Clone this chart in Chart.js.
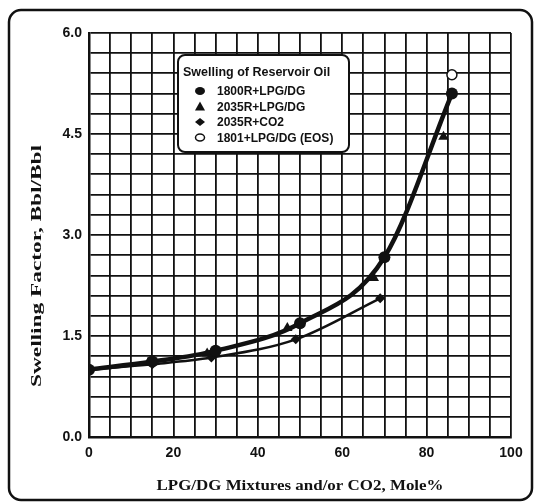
<!DOCTYPE html>
<html>
<head>
<meta charset="utf-8">
<title>Swelling of Reservoir Oil</title>
<script src="https://cdn.jsdelivr.net/npm/chart.js"></script>
<style>
  html, body { margin: 0; padding: 0; background: #fff; }
  #wrap { width: 535px; height: 502px; }
</style>
</head>
<body>
<div id="wrap"><canvas id="swellChart" width="535" height="502"></canvas></div>
<script>
// data
const x1800 = [0, 15, 30, 50, 70, 86];
const y1800 = [1.0, 1.12, 1.28, 1.69, 2.67, 5.1];

const x2035 = [14, 28, 47, 67.5, 84];
const y2035 = [1.10, 1.24, 1.62, 2.36, 4.46];

const xCO2 = [0, 15, 29, 49, 69];
const yCO2 = [1.0, 1.08, 1.18, 1.45, 2.06];

const xEOS = [86];
const yEOS = [5.38];

const seriesNames = ['1800R+LPG/DG', '2035R+LPG/DG', '2035R+CO2', '1801+LPG/DG (EOS)'];

const xTicksShown = [0, 20, 40, 60, 80, 100];
const yTicksShown = ['0.0', '1.5', '3.0', '4.5', '6.0'];

const xTitle = 'LPG/DG Mixtures and/or CO2, Mole%';
const yTitle = 'Swelling Factor, Bbl/Bbl';

const pts = (xs, ys) => xs.map((x, i) => ({ x: x, y: ys[i] }));
const ink = '#111';
const serifBold = 'bold 15px "Liberation Serif", "Times New Roman", serif';

const framePlugin = {
  id: 'frame',
  beforeDraw(chart) {
    const c = chart.ctx;
    c.save();
    c.fillStyle = '#fff';
    c.fillRect(0, 0, chart.width, chart.height);
    c.strokeStyle = ink;
    c.lineWidth = 2.5;
    c.beginPath();
    c.roundRect(9, 10, chart.width - 12, chart.height - 12, 12);
    c.stroke();
    c.restore();
  }
};

// axis titles in the scan are wide, stretched type
function stretchedText(c, text, cx, cy, targetW, rot) {
  c.save();
  c.translate(cx, cy);
  if (rot) c.rotate(-Math.PI / 2);
  const w = c.measureText(text).width;
  c.scale(targetW / w, 1);
  c.fillText(text, 0, 0);
  c.restore();
}

const axisTitles = {
  id: 'axisTitles',
  afterDraw(chart) {
    const c = chart.ctx;
    const a = chart.chartArea;
    c.save();
    c.fillStyle = ink;
    c.font = serifBold;
    c.textAlign = 'center';
    c.textBaseline = 'middle';
    stretchedText(c, xTitle, (a.left + a.right) / 2, a.bottom + 49, 287, false);
    stretchedText(c, yTitle, 37, a.top + 233, 242, true);
    c.restore();
  }
};

const legendBox = {
  id: 'legendBox',
  afterDatasetsDraw(chart) {
    const c = chart.ctx;
    const a = chart.chartArea;
    const left = a.left + 89, top = a.top + 22, w = 171, h = 97;
    c.save();
    c.fillStyle = '#fff';
    c.strokeStyle = ink;
    c.lineWidth = 2;
    c.beginPath();
    c.roundRect(left, top, w, h, 7);
    c.fill();
    c.stroke();
    c.fillStyle = ink;
    c.textBaseline = 'middle';
    c.font = 'bold 12.5px "Liberation Sans", Arial, sans-serif';
    c.fillText('Swelling of Reservoir Oil', left + 5, top + 18);
    c.font = 'bold 12px "Liberation Sans", Arial, sans-serif';
    seriesNames.forEach((name, i) => {
      const yy = top + 36 + i * 15.5;
      const mx = left + 22;
      c.beginPath();
      if (i === 0) {
        c.ellipse(mx, yy, 5, 4, 0, 0, Math.PI * 2);
        c.fill();
      } else if (i === 1) {
        c.moveTo(mx, yy - 5); c.lineTo(mx + 5, yy + 4); c.lineTo(mx - 5, yy + 4); c.closePath();
        c.fill();
      } else if (i === 2) {
        c.moveTo(mx, yy - 4); c.lineTo(mx + 5, yy); c.lineTo(mx, yy + 4); c.lineTo(mx - 5, yy); c.closePath();
        c.fill();
      } else {
        c.ellipse(mx, yy, 4.5, 3.5, 0, 0, Math.PI * 2);
        c.lineWidth = 1.5;
        c.stroke();
      }
      c.fillText(name, left + 39, yy + 1);
    });
    c.restore();
  }
};

const ctx = document.getElementById('swellChart').getContext('2d');
const chart = new Chart(ctx, {
  type: 'scatter',
  data: {
    datasets: [
      {
        label: seriesNames[0],
        data: pts(x1800, y1800),
        showLine: true,
        cubicInterpolationMode: 'monotone',
        borderColor: ink,
        backgroundColor: ink,
        borderWidth: 4.5,
        pointStyle: 'circle',
        pointRadius: 6,
        pointBorderWidth: 0
      },
      {
        label: seriesNames[1],
        data: pts(x2035, y2035),
        showLine: false,
        borderColor: ink,
        backgroundColor: ink,
        pointStyle: 'triangle',
        pointRadius: 6,
        pointBorderWidth: 0
      },
      {
        label: seriesNames[2],
        data: pts(xCO2, yCO2),
        showLine: true,
        cubicInterpolationMode: 'monotone',
        borderColor: ink,
        backgroundColor: ink,
        borderWidth: 2.5,
        pointStyle: 'rectRot',
        pointRadius: (c) => c.dataIndex === 0 ? 0 : 5,
        pointBorderWidth: 0
      },
      {
        label: seriesNames[3],
        data: pts(xEOS, yEOS),
        showLine: false,
        borderColor: ink,
        backgroundColor: '#fff',
        pointStyle: 'circle',
        pointRadius: 5,
        pointBorderWidth: 1.5
      }
    ]
  },
  options: {
    responsive: false,
    animation: false,
    layout: { padding: { left: 10, top: 33, right: 24, bottom: 10 } },
    plugins: {
      legend: { display: false },
      tooltip: { enabled: false }
    },
    scales: {
      x: {
        type: 'linear',
        min: 0,
        max: 100,
        afterFit: (s) => { s.height = 55; },
        border: { color: ink, width: 2.5 },
        grid: { color: ink, lineWidth: 1.8, drawTicks: false },
        ticks: {
          stepSize: 5,
          autoSkip: false,
          maxRotation: 0,
          padding: 8,
          color: ink,
          font: { family: '"Liberation Sans", Arial, sans-serif', size: 14, weight: 'bold' },
          callback: (v) => xTicksShown.includes(v) ? String(v) : ''
        },
        title: { display: false }
      },
      y: {
        min: 0,
        max: 6,
        afterFit: (s) => { s.width = 79; },
        border: { color: ink, width: 2.5 },
        grid: { color: ink, lineWidth: 1.8, drawTicks: false },
        ticks: {
          stepSize: 0.3,
          autoSkip: false,
          padding: 7,
          color: ink,
          font: { family: '"Liberation Sans", Arial, sans-serif', size: 14, weight: 'bold' },
          callback: (v, i) => i % 5 === 0 ? yTicksShown[i / 5] : ''
        },
        title: { display: false }
      }
    }
  },
  plugins: [framePlugin, legendBox, axisTitles]
});
</script>
</body>
</html>
